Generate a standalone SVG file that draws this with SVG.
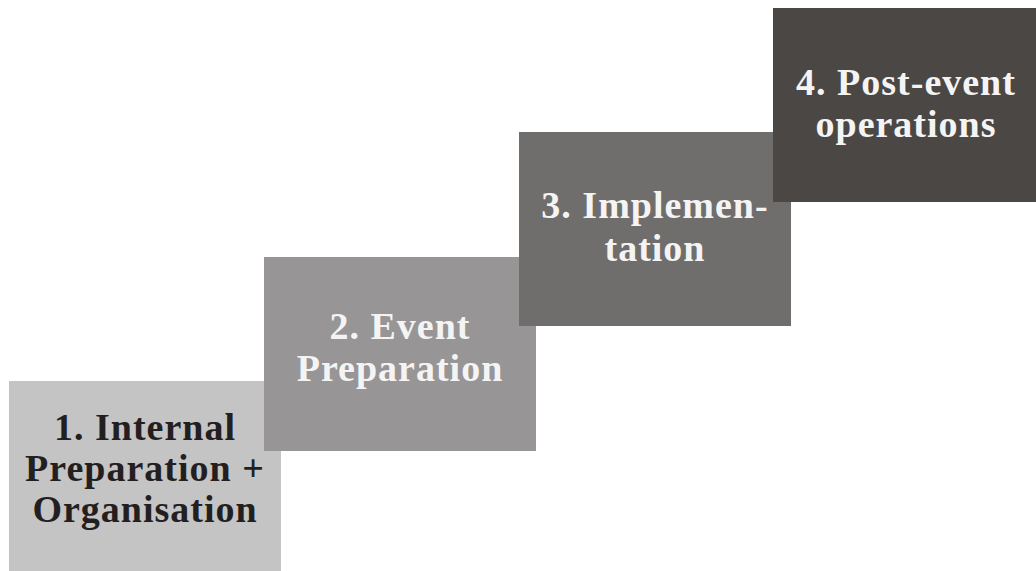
<svg xmlns="http://www.w3.org/2000/svg" width="1036" height="571" viewBox="0 0 1036 571">
  <style>
    .step text { font-family: "Liberation Serif", "Times New Roman", serif; font-weight: bold; font-size: 38px; letter-spacing: 1px; text-anchor: middle; }
    .light text { fill: #231f20; }
    .dark text { fill: #f4f4f4; }
  </style>
  <rect x="0" y="0" width="1036" height="571" fill="#ffffff"/>
  <!-- staircase of phases, each step drawn over the previous one -->
  <g id="step1" class="step light">
    <rect x="9" y="381" width="272" height="194" fill="#c4c4c4"/>
    <text x="145" y="440">1. Internal</text>
    <text x="145" y="481">Preparation +</text>
    <text x="145" y="522">Organisation</text>
  </g>
  <g id="step2" class="step dark">
    <rect x="264" y="257" width="272" height="194" fill="#979596"/>
    <text x="400" y="339">2. Event</text>
    <text x="400" y="381">Preparation</text>
  </g>
  <g id="step3" class="step dark">
    <rect x="519" y="132" width="272" height="194" fill="#706e6c"/>
    <text x="655" y="218">3. Implemen-</text>
    <text x="655" y="261">tation</text>
  </g>
  <g id="step4" class="step dark">
    <rect x="773" y="8" width="272" height="194" fill="#4b4744"/>
    <text x="906" y="95">4. Post-event</text>
    <text x="906" y="137">operations</text>
  </g>
  <g id="connectors"/>
</svg>
